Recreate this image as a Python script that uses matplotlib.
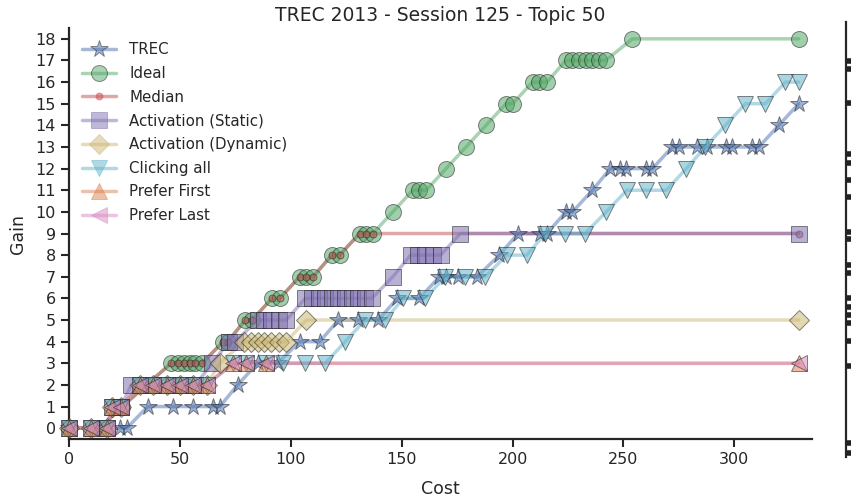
import matplotlib
matplotlib.use("Agg")
import matplotlib.pyplot as plt
import seaborn as sns

sns.set_style("ticks")
plt.rcParams['font.family'] = ['DejaVu Sans']

# cost / gain curves for each strategy
trec_cost = [0, 23, 26, 35.5, 47, 56, 65, 68, 76, 85, 94, 104, 113, 121.5, 130.5, 139.5,
             148, 158, 167, 170, 175.5, 184, 194, 202.5, 212.5, 215.5, 224, 227, 236,
             244, 248.5, 251, 260, 263, 272, 275, 283, 287.5, 296, 299, 308, 311, 320, 329]
trec_gain = [0, 0, 0, 1, 1, 1, 1, 1, 2, 3, 3, 4, 4, 5, 5, 5, 6, 6, 7, 7, 7, 7, 8, 9, 9, 9,
             10, 10, 11, 12, 12, 12, 12, 12, 13, 13, 13, 13, 13, 13, 13, 13, 14, 15]

ideal_cost = [0, 14, 24, 35, 46, 49, 52, 54.5, 57, 60, 69.5, 71.5, 79.5, 82.5, 91.5, 95,
              104, 107, 110, 118.5, 122, 131, 134, 137, 146, 155, 158, 161, 170, 179, 188,
              197, 200, 209, 212, 215.5, 224, 227, 230, 233, 236, 239, 242, 254, 329]
ideal_gain = [0, 0, 1, 2, 3, 3, 3, 3, 3, 3, 4, 4, 5, 5, 6, 6, 7, 7, 7, 8, 8, 9, 9, 9, 10,
              11, 11, 11, 12, 13, 14, 15, 15, 16, 16, 16, 17, 17, 17, 17, 17, 17, 17, 18, 18]

median_cost = ideal_cost[:24] + [329]
median_gain = ideal_gain[:24] + [9]

static_cost = [0, 10, 17, 19.5, 23.5, 28, 32, 37, 42, 47, 52, 57, 64.5, 72, 75, 85, 88, 91,
               94.5, 98, 106.5, 109.5, 112.5, 115.5, 118.5, 121.5, 124.5, 127.5, 130.5,
               133.5, 136.5, 146, 154, 157.5, 160.5, 164, 167.5, 176.5, 329]
static_gain = [0, 0, 0, 1, 1, 2, 2, 2, 2, 2, 2, 2, 3, 4, 4, 5, 5, 5, 5, 5, 6, 6, 6, 6, 6,
               6, 6, 6, 6, 6, 6, 7, 8, 8, 8, 8, 8, 9, 9]

dynamic_cost = [0, 10, 17, 19.5, 23.5, 32, 38, 44, 50, 56, 62, 68, 79, 82, 85, 88, 91, 94.5,
                98, 107, 329]
dynamic_gain = [0, 0, 0, 1, 1, 2, 2, 2, 2, 2, 2, 3, 4, 4, 4, 4, 4, 4, 4, 5, 5]

click_cost = [0, 10, 17, 19.5, 23.5, 32, 38, 44, 50, 56, 62, 74, 80, 89, 96.5, 106.5, 115.5,
              124.5, 133.5, 142.5, 150.7, 160.6, 169.6, 178.6, 187.6, 197.4, 206.4, 214.7,
              223.7, 232.7, 242.2, 251.5, 260.3, 269.3, 278.3, 286.9, 295.9, 305, 314, 323, 329]
click_gain = [0, 0, 0, 1, 1, 2, 2, 2, 2, 2, 2, 3, 3, 3, 3, 3, 3, 4, 5, 5, 6, 6, 7, 7, 7, 8,
              8, 9, 9, 9, 10, 11, 11, 11, 12, 13, 14, 15, 15, 16, 16]

first_cost = [0, 10, 17, 19.5, 23.5, 32, 38, 44, 50, 56, 62, 74, 80, 89, 329]
first_gain = [0, 0, 0, 1, 1, 2, 2, 2, 2, 2, 2, 3, 3, 3, 3]

last_cost = [0, 10, 17, 19.5, 23.5, 32, 38, 44, 50, 56, 62, 74, 80, 89, 329]
last_gain = [0, 0, 0, 1, 1, 2, 2, 2, 2, 2, 2, 3, 3, 3, 3]

# marks on the narrow strip at the right edge (0..435 scale)
strip_marks = [396.3, 387.7, 353.7, 303, 293.7, 277, 260.3, 225.3, 217.7, 192, 183.7,
               158.7, 150.3, 142, 133.7, 116.3, 91, 13.7, 3.7]

series = [
    ("TREC", trec_cost, trec_gain, "#4C72B0", "*", 13),
    ("Ideal", ideal_cost, ideal_gain, "#55A868", "o", 11.5),
    ("Median", median_cost, median_gain, "#C44E52", "o", 5),
    ("Activation (Static)", static_cost, static_gain, "#8172B2", "s", 11),
    ("Activation (Dynamic)", dynamic_cost, dynamic_gain, "#CCB974", "D", 10),
    ("Clicking all", click_cost, click_gain, "#64B5CD", "v", 12),
    ("Prefer First", first_cost, first_gain, "#DD8452", "^", 12),
    ("Prefer Last", last_cost, last_gain, "#DA8BC3", "<", 12),
]

fig = plt.figure(figsize=(8.51, 5.0), dpi=100)
ax = fig.add_axes([0.0811, 0.122, 0.8731, 0.822])

for name, xs, ys, col, mk, ms in series:
    ax.plot(xs, ys, color=col, lw=2.5, alpha=0.5, zorder=2)
    ax.plot(xs, ys, ls="none", marker=mk, ms=ms, mfc=col, mec="#222222", mew=0.7,
            alpha=0.55, clip_on=False, zorder=3)
    # legend proxy: line + marker
    ax.plot([], [], color=col, lw=2.5, alpha=0.5, marker=mk, ms=ms, mfc=col,
            mec="#222222" if mk in "*o" and ms > 6 else col, mew=0.7, label=name)

ax.set_xlim(0, 335)
ax.set_ylim(-0.5, 18.5)
ax.set_yticks(range(0, 19))
ax.set_xticks(range(0, 301, 50))
ax.set_xlabel("Cost", fontsize=12.5, labelpad=9)
ax.set_ylabel("Gain", fontsize=12.5, labelpad=6)
ax.set_title("TREC 2013 - Session 125 - Topic 50", fontsize=13.5, pad=5)
ax.tick_params(labelsize=11.5, width=1.5, length=6, colors="#262626")
for s in ("left", "bottom"):
    ax.spines[s].set_linewidth(1.6)
    ax.spines[s].set_color("#262626")
sns.despine(ax=ax)

ax.legend(loc="upper left", frameon=False, fontsize=10.8, handlelength=2.3,
          handletextpad=0.85, labelspacing=0.58, borderaxespad=0.55,
          bbox_to_anchor=(-0.002, 1.0))

# narrow strip on the right edge
ax2 = fig.add_axes([0.9941, 0.086, 0.01, 0.87])
ax2.set_ylim(0, 435)
ax2.set_xticks([])
ax2.set_yticks(strip_marks)
ax2.set_yticklabels([])
ax2.tick_params(axis="y", direction="in", length=6, width=4, color="#222222")
ax2.spines["left"].set_linewidth(1.6)
ax2.spines["left"].set_color("#262626")
for s in ("top", "right", "bottom"):
    ax2.spines[s].set_visible(False)

fig.savefig("out.png", dpi=100)
